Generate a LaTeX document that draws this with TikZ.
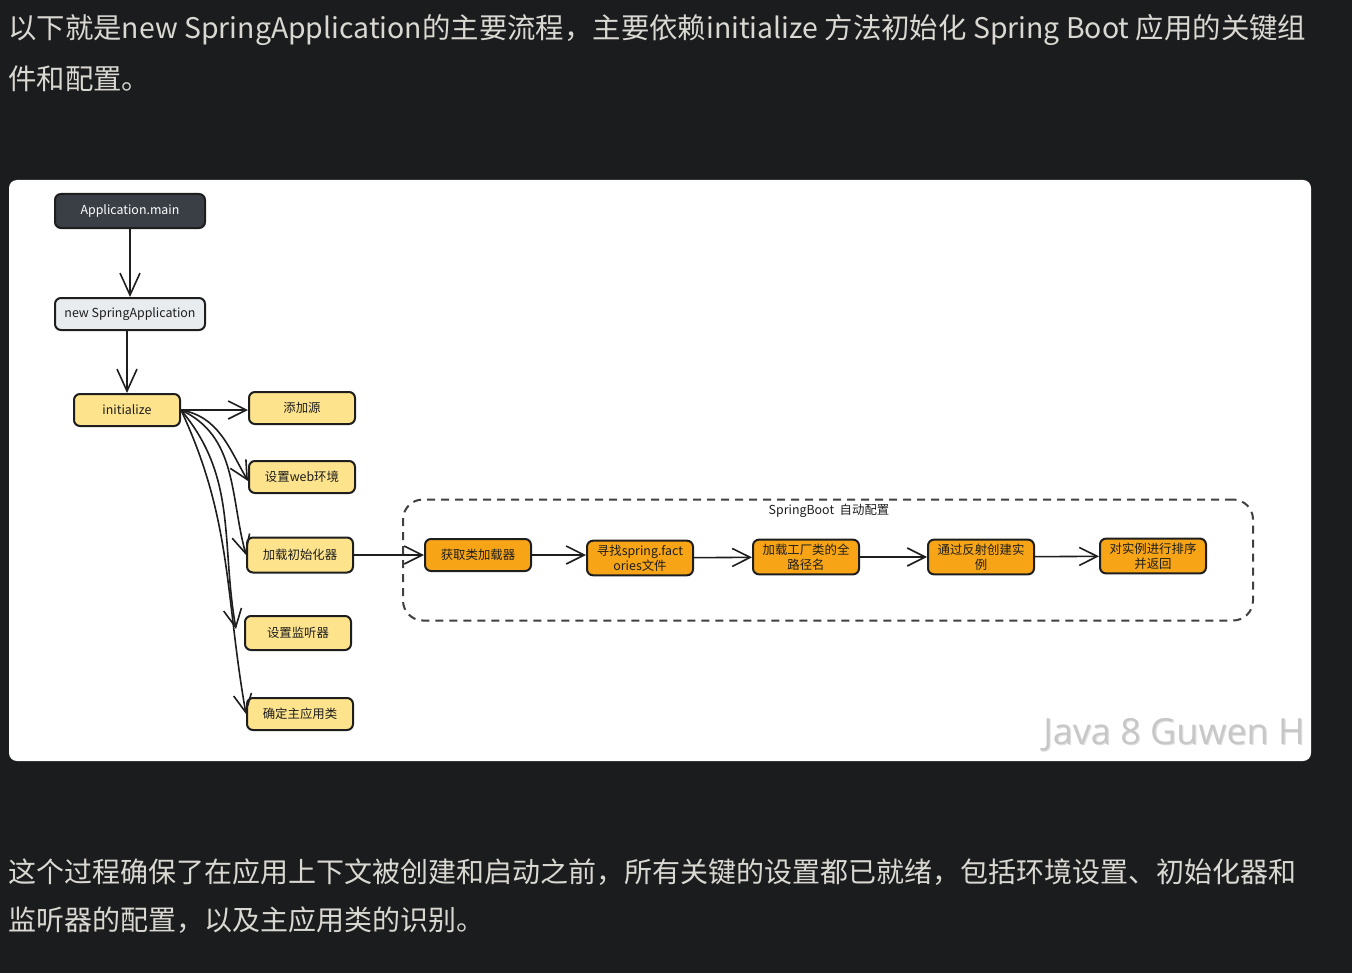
\documentclass[tikz,border=0pt]{standalone}
\usepackage{fontspec}
\setmainfont{Noto Sans CJK SC}
\newfontfamily\cjk{Noto Sans CJK SC}
\newfontfamily\wmfont{Open Sans}
\usetikzlibrary{arrows.meta, positioning}
\definecolor{pagebg}{HTML}{1B1C1D}
\definecolor{pagetext}{HTML}{DAD8D2}
\definecolor{mainfill}{HTML}{3A3F45}
\definecolor{newfill}{HTML}{E9ECEF}
\definecolor{yfill}{HTML}{FDE38C}
\definecolor{ofill}{HTML}{F7A516}
\definecolor{inkline}{HTML}{1E1E1E}
\tikzset{
  mainbox/.style={
    rectangle, rounded corners=3pt, draw=inkline, line width=1pt,
    fill=mainfill, text=white, text centered,
    minimum width=75pt, minimum height=17pt,
    font=\cjk\fontsize{6.2}{7}\selectfont
  },
  newbox/.style={
    mainbox, fill=newfill, text=inkline, minimum height=16pt
  },
  ybox/.style={
    rectangle, rounded corners=3pt, draw=inkline, line width=1pt,
    fill=yfill, text=inkline, text centered,
    minimum width=53pt, minimum height=16pt,
    font=\cjk\fontsize{6.2}{7}\selectfont
  },
  obox/.style={
    rectangle, rounded corners=3pt, draw=inkline, line width=1pt,
    fill=ofill, text=inkline, align=center, inner sep=2pt,
    minimum width=53pt, minimum height=16pt,
    font=\cjk\fontsize{6.2}{7.6}\selectfont
  },
  autoframe/.style={
    rectangle, rounded corners=10pt, draw=inkline!85, line width=1pt,
    dash pattern=on 4pt off 3pt,
    minimum width=425pt, minimum height=60.5pt
  },
  framelabel/.style={
    font=\cjk\fontsize{6.2}{7}\selectfont, text=inkline
  },
  prose/.style={
    anchor=west, inner sep=0pt, text=pagetext,
    font=\cjk\fontsize{14.2}{16}\selectfont
  },
  arr/.style={-{Straight Barb[length=9pt, width=9pt]}, line width=0.8pt, draw=inkline},
  varr/.style={-{Straight Barb[length=11pt, width=10pt]}, line width=0.8pt, draw=inkline},
}

\begin{document}
\begin{tikzpicture}[x=0.5pt, y=-0.5pt]

  % ── page ──────────────────────────────────────────────────────────────────
  \fill[pagebg] (0,0) rectangle (1352,973);
  \useasboundingbox (0,0) rectangle (1352,973);
  \fill[white, rounded corners=4pt] (9,180) rectangle (1311,761);

  \node[prose] (intro1) at (8,30) {以下就是new SpringApplication的主要流程，主要依赖initialize 方法初始化 Spring Boot 应用的关键组};
  \node[prose] (intro2) at (8,79) {件和配置。};
  \node[prose, font=\cjk\fontsize{14}{16}\selectfont] (outro1) at (8,872) {这个过程确保了在应用上下文被创建和启动之前，所有关键的设置都已就绪，包括环境设置、初始化器和};
  \node[prose, font=\cjk\fontsize{14}{16}\selectfont] (outro2) at (8,920) {监听器的配置，以及主应用类的识别。};

  % ── nodes ─────────────────────────────────────────────────────────────────
  \node[mainbox] (appmain) at (130,211) {Application.main};
  \node[newbox]  (newapp)  at (130,314) {new SpringApplication};
  \node[ybox]    (init)    at (127,410) {initialize};

  % initialize steps (left column)
  \node[ybox] (addsrc)    at (302,408) {添加源};
  \node[ybox] (webenv)    at (302,477) {设置web环境};
  \node[ybox, minimum height=17.5pt] (loader) at (300,555) {加载初始化器};
  \node[ybox, minimum height=17pt]   (listen) at (298,633) {设置监听器};
  \node[ybox] (mainclass) at (300,714) {确定主应用类};

  % auto configuration frame
  \node[autoframe]  (autocfg)   at (828,560) {};
  \node[framelabel] (autolabel) at (829,511) {SpringBoot\ \ 自动配置};

  \node[obox] (getcl)   at (478,555)  {获取类加载器};
  \node[obox] (findsf)  at (640,558)  {寻找spring.fact\\ories文件};
  \node[obox] (loadfq)  at (806,557)  {加载工厂类的全\\路径名};
  \node[obox] (reflect) at (981,557)  {通过反射创建实\\例};
  \node[obox] (sortret) at (1153,556) {对实例进行排序\\并返回};

  % watermark
  \node[font=\wmfont\fontsize{18}{20}\selectfont, text=black!12, xshift=0.6pt, yshift=-0.6pt]
    (wmshadow) at (1174,735) {Java 8 Guwen H};
  \node[font=\wmfont\fontsize{18}{20}\selectfont, text=black!22] (wm) at (1174,735) {Java 8 Guwen H};

  % ── edges ─────────────────────────────────────────────────────────────────
  \draw[varr] (appmain) -- (newapp);
  \draw[varr] (newapp.south -| init) -- (init);

  \draw[arr] (init.east) -- (init.east -| addsrc.west);
  \draw[arr] (init.east) to[out=-10, in=120] ([yshift=-2pt]webenv.west);
  \draw[arr] (init.east) to[out=-25, in=105] (loader.west);
  \draw[arr] (init.east) to[out=-50, in=100] ([xshift=-4pt, yshift=2pt]listen.west);
  \draw[arr] (init.east) to[out=-65, in=100] (mainclass.west);

  \draw[arr] (loader)  -- (getcl);
  \draw[arr] (getcl)   -- (getcl -| findsf.west);
  \draw[arr] (findsf)  -- (loadfq);
  \draw[arr] (loadfq)  -- (reflect);
  \draw[arr] (reflect) -- (sortret);

\end{tikzpicture}
\end{document}
